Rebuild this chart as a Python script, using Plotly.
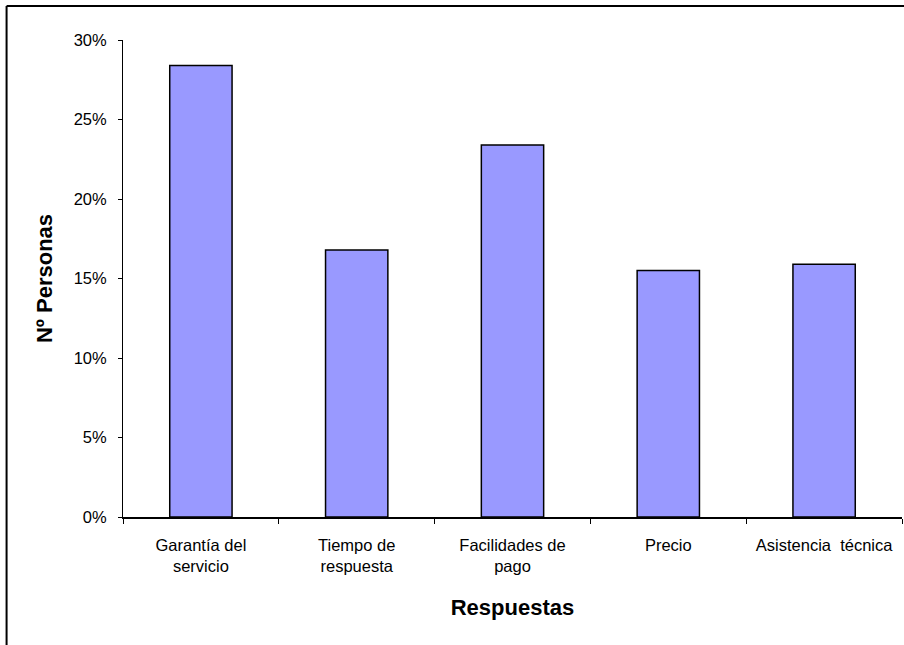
import plotly.graph_objects as go

# Survey answers and share of people choosing each one
categories = ["Garantía del<br>servicio", "Tiempo de<br>respuesta", "Facilidades de<br>pago",
              "Precio", "Asistencia  técnica"]
shares = [0.284, 0.168, 0.234, 0.155, 0.159]
y_ticks = [0, 0.05, 0.10, 0.15, 0.20, 0.25, 0.30]

W, H = 904, 645
ML, MR, MT, MB = 122.5, 2, 40, 128
pw = W - ML - MR
ph = H - MT - MB

def px_x(x):
    return (x - ML) / pw

def px_y(y):
    return (H - MB - y) / ph

font = "Liberation Sans, Arial, sans-serif"

fig = go.Figure(go.Bar(
    x=categories, y=shares,
    marker=dict(color="#9999FF", line=dict(color="black", width=1.5)),
))

fig.update_layout(
    width=W, height=H, autosize=False,
    margin=dict(l=ML, r=MR, t=MT, b=MB, pad=0),
    paper_bgcolor="white", plot_bgcolor="white",
    bargap=0.6, showlegend=False,
    font=dict(family=font, color="black", size=16.5),
    xaxis=dict(
        type="category", showline=True, linecolor="black", linewidth=1.5,
        ticks="outside", ticklen=5, tickcolor="black", tickson="boundaries",
        showgrid=False, ticklabelstandoff=12,
        tickfont=dict(family=font, size=16.5, color="black"),
        title=dict(text="<b>Respuestas</b>", font=dict(family=font, size=22, color="black"),
                   standoff=26),
    ),
    yaxis=dict(
        range=[0, 0.30], tickvals=y_ticks, tickformat=".0%",
        showline=True, linecolor="black", linewidth=1,
        ticks="outside", ticklen=4, tickcolor="black",
        showgrid=False, zeroline=False, ticklabelstandoff=8,
        tickfont=dict(family=font, size=16.5, color="black"),
        title=dict(text="<b>Nº Personas</b>", font=dict(family=font, size=22, color="black"),
                   standoff=14),
    ),
    shapes=[
        dict(type="line", xref="paper", yref="paper",
             x0=px_x(6), x1=px_x(6), y0=px_y(6), y1=px_y(H + 20),
             line=dict(color="black", width=2)),
        dict(type="line", xref="paper", yref="paper",
             x0=px_x(6), x1=px_x(W + 20), y0=px_y(6), y1=px_y(6),
             line=dict(color="black", width=2)),
    ],
)

fig.write_html("out.html")
